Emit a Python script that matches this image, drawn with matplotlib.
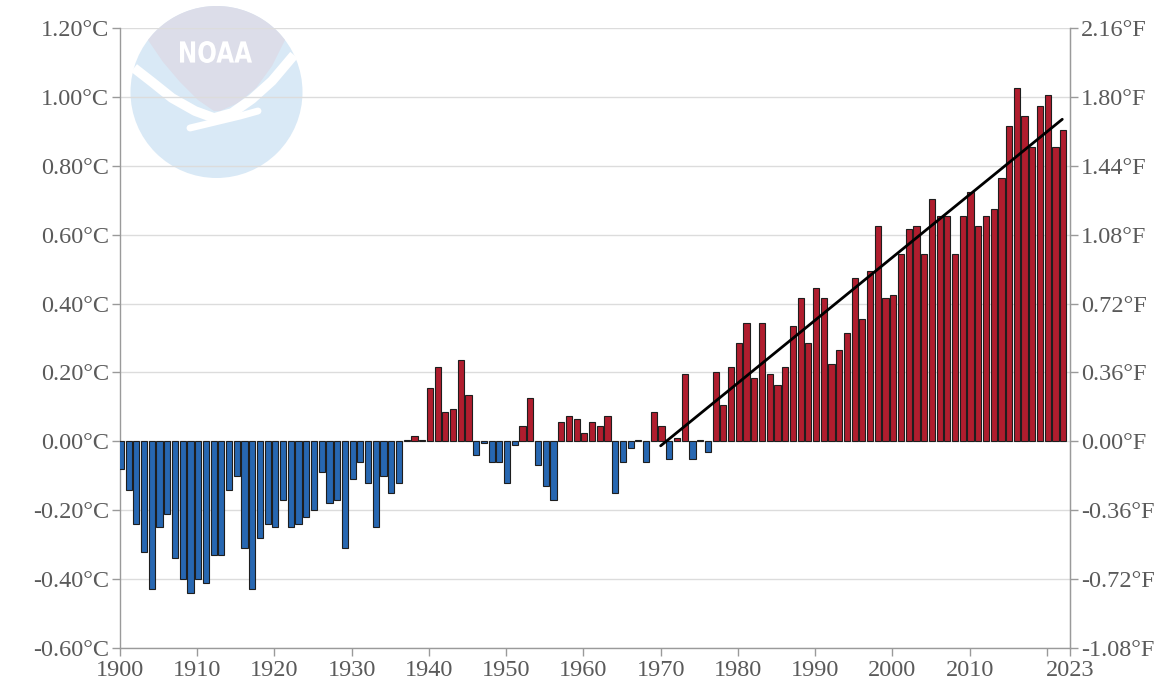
import numpy as np
import matplotlib
matplotlib.use("Agg")
import matplotlib.pyplot as plt
from matplotlib.patches import Circle, Polygon, PathPatch
from matplotlib.textpath import TextPath
from matplotlib.font_manager import FontProperties
from matplotlib.transforms import Affine2D

# ---- data ----
years = list(range(1900, 2023))
anomaly_c = [
    -0.08, -0.14, -0.24, -0.32, -0.43, -0.25, -0.21, -0.34, -0.40, -0.44,  # 1900s
    -0.40, -0.41, -0.33, -0.33, -0.14, -0.10, -0.31, -0.43, -0.28, -0.24,  # 1910s
    -0.25, -0.17, -0.25, -0.24, -0.22, -0.20, -0.09, -0.18, -0.17, -0.31,  # 1920s
    -0.11, -0.06, -0.12, -0.25, -0.10, -0.15, -0.12, 0.005, 0.015, 0.005,  # 1930s
    0.155, 0.215, 0.085, 0.095, 0.235, 0.135, -0.04, -0.005, -0.06, -0.06,  # 1940s
    -0.12, -0.01, 0.045, 0.125, -0.07, -0.13, -0.17, 0.055, 0.075, 0.065,  # 1950s
    0.025, 0.055, 0.045, 0.075, -0.15, -0.06, -0.02, 0.005, -0.06, 0.085,  # 1960s
    0.045, -0.05, 0.01, 0.195, -0.05, 0.005, -0.03, 0.20, 0.105, 0.215,   # 1970s
    0.285, 0.345, 0.185, 0.345, 0.195, 0.165, 0.215, 0.335, 0.415, 0.285,  # 1980s
    0.445, 0.415, 0.225, 0.265, 0.315, 0.475, 0.355, 0.495, 0.625, 0.415,  # 1990s
    0.425, 0.545, 0.615, 0.625, 0.545, 0.705, 0.655, 0.655, 0.545, 0.655,  # 2000s
    0.725, 0.625, 0.655, 0.675, 0.765, 0.915, 1.025, 0.945, 0.855, 0.975,  # 2010s
    1.005, 0.855, 0.905,                                                   # 2020s
]
trend_years = [1970, 2022]
trend_values = [-0.013, 0.935]

c_ticks = [-0.60, -0.40, -0.20, 0.00, 0.20, 0.40, 0.60, 0.80, 1.00, 1.20]
c_labels = [f"{v:.2f}°C" for v in c_ticks]
f_ticks = [-1.08, -0.72, -0.36, 0.00, 0.36, 0.72, 1.08, 1.44, 1.80, 2.16]
f_labels = [f"{v:.2f}°F" for v in f_ticks]
x_ticks = [1900, 1910, 1920, 1930, 1940, 1950, 1960, 1970, 1980, 1990, 2000, 2010, 2020, 2023]
x_labels = ["1900", "1910", "1920", "1930", "1940", "1950", "1960", "1970",
            "1980", "1990", "2000", "2010", "", "2023"]

# ---- style ----
W, H = 1168, 694
RED = "#b01d2e"
BLUE = "#2767b1"
EDGE = "#1e1e1e"
TXT = "#5a5a5a"
AXC = "#9a9a9a"
GRID = "#dcdcdc"
FONT = "Liberation Serif"
FS = 17.5
BAR_SHIFT = 0.12

fig = plt.figure(figsize=(W / 100, H / 100), dpi=100)
fig.patch.set_facecolor("white")

# ---- NOAA watermark logo (pixel coordinates) ----
lx0, lx1, ly0, ly1 = 128, 306, 4, 182
axl = fig.add_axes([lx0 / W, 1 - ly1 / H, (lx1 - lx0) / W, (ly1 - ly0) / H], zorder=0)
axl.set_xlim(lx0, lx1)
axl.set_ylim(ly1, ly0)
axl.axis("off")
cx, cy, r = 216.5, 92.0, 86.0
axl.add_patch(Circle((cx, cy), r, facecolor="#d9e9f6", edgecolor="none"))
a0 = np.arcsin((cy - 40) / r)
top_arc = [(cx - r * np.cos(t), cy - r * np.sin(t)) for t in np.linspace(a0, np.pi - a0, 80)]
v_right = [(285, 40), (272, 66), (256, 88), (238, 103), (220, 111)]
v_left = [(214, 111), (198, 100), (180, 82), (163, 62), (148, 40)]
axl.add_patch(Polygon(top_arc + v_right + v_left, closed=True, facecolor="#dcdde9", edgecolor="none"))
# white bird band
bx = [134, 152, 172, 195, 214, 232, 252, 272, 294]
by = [68, 82, 98, 111, 118, 113, 99, 81, 55]
axl.plot(bx, by, color="white", lw=7, solid_capstyle="butt")
axl.plot([190, 215, 240, 258], [128, 122, 116, 111], color="white", lw=5, solid_capstyle="round")
# NOAA text
tp = TextPath((0, 0), "NOAA", prop=FontProperties(family="DejaVu Sans", weight="bold"), size=10)
bb = tp.get_extents()
sx = 72 / bb.width
sy = 22 / bb.height
tr = Affine2D().translate(-bb.x0 - bb.width / 2, -bb.y0 - bb.height / 2).scale(sx, -sy).translate(216, 52)
axl.add_patch(PathPatch(tr.transform_path(tp), facecolor="white", edgecolor="none"))

# ---- main axes ----
ax = fig.add_axes([120 / W, 1 - 648 / H, (1070 - 120) / W, (648 - 28) / H], zorder=1)
ax.patch.set_alpha(0)
ax.set_xlim(1900, 2023)
ax.set_ylim(-0.6, 1.2)

colors = [RED if v >= 0 else BLUE for v in anomaly_c]
ax.bar(np.array(years) + BAR_SHIFT, anomaly_c, width=0.8, color=colors,
       edgecolor=EDGE, linewidth=0.8, zorder=3)
ax.plot(trend_years, trend_values, color="black", lw=2.0, zorder=4, solid_capstyle="round")

ax.set_yticks(c_ticks)
ax.set_yticklabels(c_labels)
ax.yaxis.grid(True, color=GRID, lw=1.0, zorder=0)
ax.set_axisbelow(True)
ax.set_xticks(x_ticks)
ax.set_xticklabels(x_labels)

ax.spines["top"].set_visible(False)
for s in ["left", "right", "bottom"]:
    ax.spines[s].set_color(AXC)
    ax.spines[s].set_linewidth(1.0)

ax.tick_params(axis="y", direction="out", length=6, width=1, color=AXC, labelcolor=TXT,
               labelsize=FS, pad=2)
ax.tick_params(axis="x", direction="out", length=6, width=1, color=AXC, labelcolor=TXT,
               labelsize=FS, pad=3)
for lab in ax.get_yticklabels() + ax.get_xticklabels():
    lab.set_fontfamily(FONT)

ax2 = ax.twinx()
ax2.set_ylim(-0.6 * 1.8, 1.2 * 1.8)
ax2.set_yticks(f_ticks)
ax2.set_yticklabels(f_labels)
for s in ["top", "left", "bottom"]:
    ax2.spines[s].set_visible(False)
ax2.spines["right"].set_color(AXC)
ax2.tick_params(axis="y", direction="out", length=6, width=1, color=AXC, labelcolor=TXT,
                labelsize=FS, pad=2)
for lab in ax2.get_yticklabels():
    lab.set_fontfamily(FONT)

fig.savefig("out.png", dpi=100, facecolor="white")
